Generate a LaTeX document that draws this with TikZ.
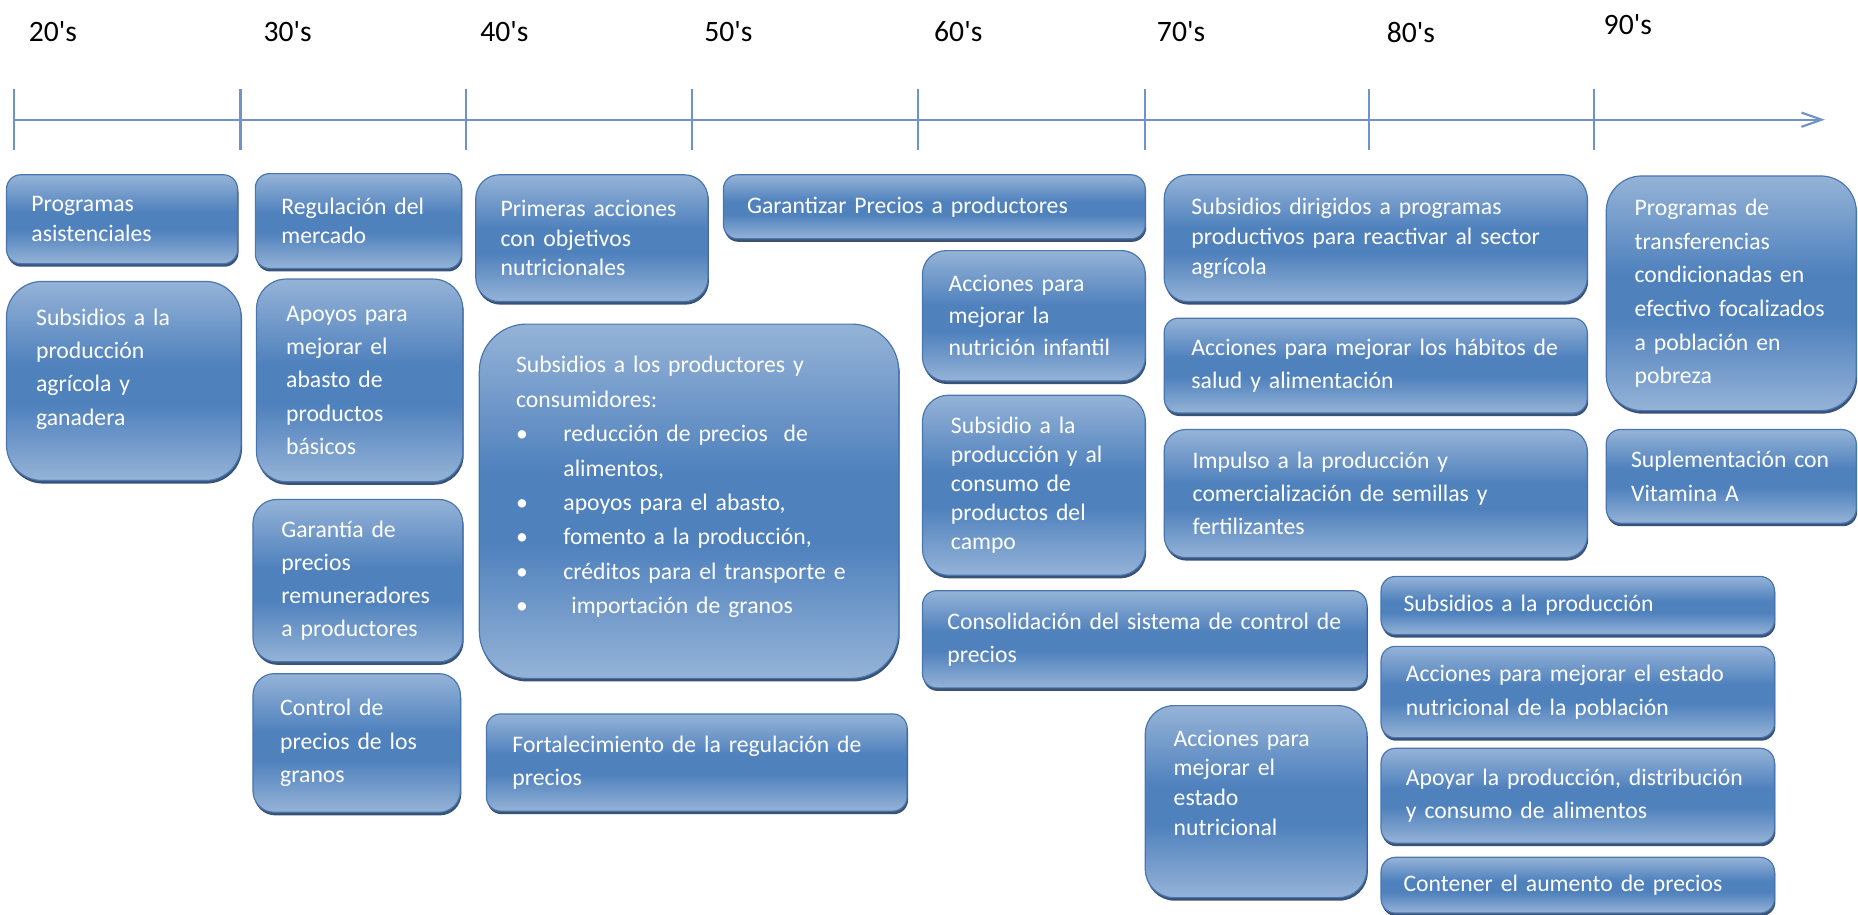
\documentclass[tikz,border=0pt]{standalone}
\usepackage{fontspec}
\setmainfont{Carlito}
\usetikzlibrary{shadows,arrows.meta}

\definecolor{boxlight}{HTML}{95B3D7}
\definecolor{boxmid}{HTML}{4F81BD}
\definecolor{boxline}{HTML}{4A76B0}
\definecolor{boxshadow}{HTML}{243F66}
\definecolor{axisblue}{HTML}{6F93C9}

\pgfdeclareverticalshading{tlshade}{100bp}{color(0bp)=(boxlight); color(25bp)=(boxlight); color(44bp)=(boxmid); color(54bp)=(boxmid); color(75bp)=(boxlight); color(100bp)=(boxlight)}

\tikzset{
  tlbox/.style={draw=boxline, line width=0.5pt, rounded corners=6pt, shade, shading=tlshade,
    drop shadow={shadow xshift=0.4pt, shadow yshift=-1.3pt, fill=boxshadow, opacity=0.9},
    anchor=north west, align=left, text=white, inner ysep=0pt,
    font=\fontsize{10}{14}\selectfont},
  era/.style={anchor=west, inner sep=0pt, font=\fontsize{12.5}{15}\selectfont},
  axisline/.style={draw=axisblue, line width=0.9pt},
}

\begin{document}
\begin{tikzpicture}[x=0.5pt, y=-0.5pt]
  \useasboundingbox (0,0) rectangle (1568,772);

  % time axis
  \coordinate (axstart) at (12,101);
  \coordinate (axend) at (1540,101);
  \draw[axisline, -{Straight Barb[length=8.5pt, width=6pt]}] (axstart) -- (axend);
  \foreach \x in {12,203,393,584,775,966,1155,1345}
    \draw[axisline] (\x,75) -- (\x,127);

  \foreach \d/\x/\y in {20/24/27, 30/222/27, 40/405/27, 50/594/27, 60/788/27, 70/976/27, 80/1170/27, 90/1353/21}
    \node[era] (e\d) at (\x,\y) {\d\textquotesingle s};

  % 20's
  \node[tlbox, inner xsep=10.5pt, text width=76.5pt, minimum height=37.5pt, font=\fontsize{10}{12.5}\selectfont]
    (prog) at (5,147) {Programas\\asistenciales};
  \node[tlbox, inner xsep=12.5pt, text width=74pt, minimum height=84pt, rounded corners=15pt]
    (subag) at (5,237) {Subsidios a la\\producción\\agrícola y\\ganadera\par\vspace*{10pt}};

  % 30's
  \node[tlbox, inner xsep=11pt, text width=65pt, minimum height=40pt, font=\fontsize{10}{12.5}\selectfont]
    (reg) at (215,146) {Regulación del\\mercado};
  \node[tlbox, inner xsep=12.5pt, text width=62pt, minimum height=85.5pt, rounded corners=12.5pt]
    (apoy) at (216,235) {Apoyos para\\mejorar el\\abasto de\\productos\\básicos};
  \node[tlbox, inner xsep=12pt, text width=64.5pt, minimum height=68.5pt, rounded corners=10pt]
    (gar) at (213,421) {Garantía de\\precios\\remuneradores\\a productores};
  \node[tlbox, inner xsep=11.5pt, text width=64.5pt, minimum height=58.5pt, rounded corners=9pt]
    (ctrl) at (213,568) {Control de\\precios de los\\granos};

  % 40's
  \node[tlbox, inner xsep=10.5pt, text width=77pt, minimum height=53.5pt, rounded corners=10pt, font=\fontsize{10}{12.5}\selectfont]
    (prim) at (401,147) {Primeras acciones\\con objetivos\\nutricionales};
  \node[tlbox, inner xsep=15.5pt, text width=146pt, minimum height=149.5pt, rounded corners=20pt, font=\fontsize{10}{14.5}\selectfont]
    (subcons) at (404,273) {Subsidios a los productores y\\consumidores:\\
      \makebox[20pt][l]{\textbullet}reducción de precios\ \ de\\
      \hspace*{20pt}alimentos,\\
      \makebox[20pt][l]{\textbullet}apoyos para el abasto,\\
      \makebox[20pt][l]{\textbullet}fomento a la producción,\\
      \makebox[20pt][l]{\textbullet}créditos para el transporte e\\
      \makebox[20pt][l]{\textbullet}\ importación de granos\par\vspace*{12pt}};
  \node[tlbox, inner xsep=11pt, text width=155.5pt, minimum height=41pt]
    (fort) at (410,602) {Fortalecimiento de la regulación de\\precios};

  % 50's
  \node[tlbox, inner xsep=10pt, text width=158pt, minimum height=27pt]
    (garp) at (610,147) {Garantizar Precios a productores};

  % 60's
  \node[tlbox, inner xsep=11pt, text width=72pt, minimum height=55pt, rounded corners=10pt, font=\fontsize{10}{13.5}\selectfont]
    (acinf) at (778,211) {Acciones para\\mejorar la\\nutrición infantil};
  \node[tlbox, inner xsep=12pt, text width=70pt, minimum height=76pt, rounded corners=11pt, font=\fontsize{10}{12.25}\selectfont]
    (subcamp) at (778,333) {Subsidio a la\\producción y al\\consumo de\\productos del\\campo};
  \node[tlbox, inner xsep=10.5pt, text width=166.5pt, minimum height=41pt]
    (cons) at (778,498) {Consolidación del sistema de control de\\precios};

  % 70's
  \node[tlbox, inner xsep=12pt, text width=69.5pt, minimum height=81pt, rounded corners=12pt, font=\fontsize{10}{12.5}\selectfont]
    (acest) at (966,595) {Acciones para\\mejorar el\\estado\\nutricional\par\vspace*{16pt}};
  \node[tlbox, inner xsep=11.5pt, text width=155.5pt, minimum height=53.5pt, rounded corners=10pt, font=\fontsize{10}{12.75}\selectfont]
    (subdir) at (982,147) {Subsidios dirigidos a programas\\productivos para reactivar al sector\\agrícola};
  \node[tlbox, inner xsep=11.5pt, text width=155.5pt, minimum height=40pt]
    (habit) at (982,268) {Acciones para mejorar los hábitos de\\salud y alimentación};
  \node[tlbox, inner xsep=12pt, text width=154.5pt, minimum height=54pt, rounded corners=9pt]
    (impul) at (982,362) {Impulso a la producción y\\comercialización de semillas y\\fertilizantes};

  % 80's
  \node[tlbox, inner xsep=9.5pt, text width=147pt, minimum height=24.5pt]
    (subp) at (1165,486) {Subsidios a la producción};
  \node[tlbox, inner xsep=10.5pt, text width=145pt, minimum height=38.5pt, font=\fontsize{10}{14.5}\selectfont]
    (acpob) at (1165,545) {Acciones para mejorar el estado\\nutricional de la población};
  \node[tlbox, inner xsep=10.5pt, text width=145pt, minimum height=40pt]
    (apoyar) at (1165,631) {Apoyar la producción, distribución\\y consumo de alimentos};
  \node[tlbox, inner xsep=9.5pt, text width=147pt, minimum height=23.5pt]
    (cont) at (1165,723) {Contener el aumento de precios};

  % 90's
  \node[tlbox, inner xsep=12pt, text width=81.5pt, minimum height=99pt, rounded corners=15pt, font=\fontsize{10}{14.2}\selectfont]
    (transf) at (1355,148) {Programas de\\transferencias\\condicionadas en\\efectivo focalizados\\a población en\\pobreza};
  \node[tlbox, inner xsep=10.5pt, text width=84.5pt, minimum height=39.5pt, font=\fontsize{10}{14.5}\selectfont]
    (supl) at (1355,362) {Suplementación con\\Vitamina A};
\end{tikzpicture}
\end{document}
